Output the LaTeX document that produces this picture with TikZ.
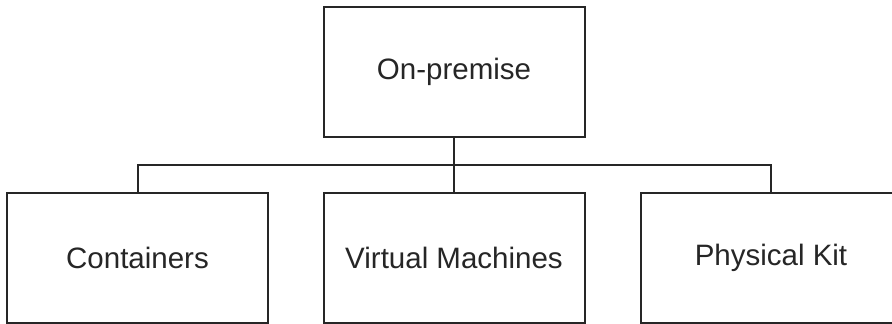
\documentclass[tikz,border=0pt]{standalone}
\usepackage{fontspec}
\setmainfont{Liberation Sans}
\begin{document}
\begin{tikzpicture}[x=1pt,y=1pt,
  box/.style={draw=black!85, line width=2pt, minimum width=261pt, minimum height=130pt,
    inner sep=0pt, font=\fontsize{29.5}{34}\selectfont, text=black!85},
  link/.style={draw=black!85, line width=2pt}]
  \useasboundingbox (0,0) rectangle (892,-324);
  \fill[white] (0,0) rectangle (892,-324);
  % root and the three deployment targets
  \node[box] (top) at (454,-72) {On-premise};
  \node[box] (cont) at (137.5,-258) {Containers};
  \node[box] (vm) at (454,-258) {Virtual Machines};
  \node[box] (kit) at (771,-258) {Physical Kit};
  % tree connectors
  \coordinate (bar) at (454,-165);
  \draw[link] (top.south) -- (vm.north);
  \draw[link] (cont.north) |- (bar) -| (kit.north);
\end{tikzpicture}
\end{document}
